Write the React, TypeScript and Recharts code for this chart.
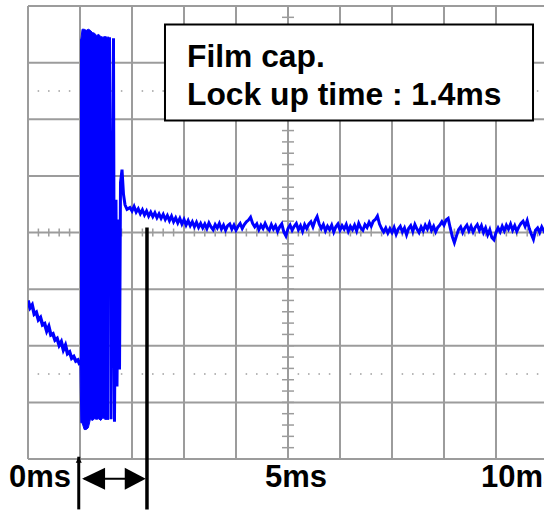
import React from 'react';
import {
  ComposedChart,
  Line,
  Area,
  XAxis,
  YAxis,
  ReferenceLine,
  ReferenceArea,
  ReferenceDot,
} from 'recharts';

// ---------- axis / grid definitions (time in ms, vertical in divisions) ----------
const X_MIN = -1.25;
const X_MAX = 11.154;
const Y_MIN = -4;
const Y_MAX = 4;
const majorX = [-1.25, 0, 1.25, 2.5, 3.75, 5, 6.25, 7.5, 8.75, 10];
const majorY = [-4, -3, -2, -1, 0, 1, 2, 3, 4];
const dottedY = [2.5, -2.5];
const timeTicks = [0, 5, 10];
const CENTER_T = 5;

// ---------- trace data ----------
const sampleStep = 0.05;

const preTriggerStart = -1.25;
const preTriggerValues = [
  -1.2, -1.33, -1.28, -1.44, -1.41, -1.54, -1.5, -1.63, -1.61, -1.74, -1.66, -1.81, -1.79,
  -1.9, -1.87, -1.99, -1.93, -2.07, -1.99, -2.14, -2.11, -2.22, -2.19, -2.27, -2.25, -2.34,
];

const burstTime = [0, 0.02, 0.05, 0.1, 0.15, 0.2, 0.25, 0.3, 0.35, 0.4, 0.45, 0.5, 0.55, 0.6, 0.65, 0.7];
const burstHigh = [3.41, 3.41, 3.59, 3.59, 3.57, 3.59, 3.57, 3.53, 3.52, 3.48, 3.5, 3.46, 3.45, 3.46, 3.45, 3.45];
const burstLow = [-2.33, -3.36, -3.36, -3.48, -3.48, -3.45, -3.3, -3.32, -3.29, -3.3, -3.29, -3.32, -3.27, -3.3, -3.3, -3.3];

const ringTime = [0.709, 0.745, 0.805, 0.829, 0.865, 0.889, 0.925, 0.95, 0.974, 1.01, 1.046, 1.082, 1.13];
const ringValue = [3.45, -3.3, 3.43, -3.34, 0.58, -2.72, 0.23, -2.42, 0.88, 1.11, 0.67, 0.49, 0.41];

const settleStart = 1.2;
const settleValues = [
  // decay 1.20 .. 2.95
  0.44, 0.38, 0.46, 0.36, 0.42, 0.33, 0.4, 0.31, 0.38, 0.29, 0.36, 0.28, 0.35, 0.26, 0.33, 0.25,
  0.32, 0.23, 0.3, 0.21, 0.29, 0.19, 0.26, 0.17, 0.25, 0.15, 0.23, 0.13, 0.21, 0.12, 0.19, 0.1,
  0.18, 0.09, 0.16, 0.08,
  // steady 3.00 ..
  0.15, 0.07, 0.17, 0.1, 0.05, 0.14, 0.08, 0.16, 0.06, 0.13,
  0.04, 0.12, 0.15, 0.06, 0.13, 0.04, 0.11, 0.16, 0.07, 0.14,
  0.19, 0.22, 0.27, 0.16, 0.1, 0.15, 0.05, 0.13, 0.07, 0.16,
  0.08, 0.04, 0.14, 0.06, 0.12, 0.02, 0.1, 0.15, 0.01, -0.06,
  0.07, 0.13, 0.04, 0.11, 0.16, 0.05, 0.12, 0.02, 0.14, 0.07,
  0.15, 0.19, 0.1, 0.21, 0.28, 0.15, 0.07, 0.14, 0.03, 0.11,
  0.05, 0.13, 0.01, 0.1, 0.15, 0.04, 0.12, 0.06, 0.14, 0.02,
  0.11, 0.05, 0.13, 0.03, 0.16, 0.08, 0.04, 0.14, 0.09, 0.18,
  0.11, 0.2, 0.23, 0.29, 0.15, 0.07, 0.01, 0.08, -0.01, 0.07,
  0.0, 0.09, -0.03, 0.06, 0.11, 0.01, 0.08, -0.04, 0.07, 0.12,
  0.02, 0.14, 0.06, 0.0, 0.1, 0.03, 0.13, 0.06, 0.16, 0.04,
  0.11, 0.01, 0.09, 0.13, 0.19, 0.13, 0.22, 0.25, 0.08, -0.07,
  -0.18, -0.06, 0.05, 0.1, 0.0, 0.08, 0.13, 0.03, 0.11, 0.01,
  0.09, 0.14, 0.04, 0.12, 0.0, 0.08, -0.04, 0.05, -0.09, -0.13,
  0.0, 0.08, 0.01, 0.11, 0.03, 0.13, 0.06, 0.15, 0.04, 0.12,
  0.02, 0.1, 0.16, 0.2, 0.11, 0.21, 0.07, -0.03, -0.12, 0.04,
  0.08, 0.0, 0.1, 0.03, 0.09,
];

// annotation values
const lockStart = -0.03;
const lockEnd = 1.61;
const lockTop = 0.09;
const arrowLevel = -4.35;
const markerTop = -3.96;
const markerBottom = -4.89;
const boxX = [2.043, 10.89];
const boxY = [1.979, 3.675];
const boxLines = ['Film cap.', 'Lock up time : 1.4ms'];

// ---------- derived series ----------
const preTriggerData = preTriggerValues.map((v, i) => ({ t: preTriggerStart + i * sampleStep, v }));
const burstData = burstTime.map((t, i) => ({ t, range: [burstLow[i], burstHigh[i]] }));
const ringSettleData = [
  ...ringTime.map((t, i) => ({ t, v: ringValue[i] })),
  ...settleValues.map((v, i) => ({ t: settleStart + i * sampleStep, v })),
];

const minorXTicks: number[] = [];
for (let k = 0; k <= 50; k++) minorXTicks.push(X_MIN + 0.25 * k);
const minorYTicks: number[] = [];
for (let k = 0; k <= 40; k++) minorYTicks.push(Y_MIN + 0.2 * k);

const FONT = '"Liberation Sans", Arial, Helvetica, sans-serif';
const GRID = '#9c9c9c';
const BLUE = '#0000ff';

const tickPlacement: Record<number, { dx: number; anchor: 'start' | 'middle' | 'end' }> = {
  0: { dx: -9, anchor: 'end' },
  5: { dx: 8, anchor: 'middle' },
  10: { dx: -15, anchor: 'start' },
};

function TimeTick(props: any) {
  const { x, y, payload } = props;
  const p = tickPlacement[payload.value] || { dx: 0, anchor: 'middle' };
  return (
    <text
      x={x + p.dx}
      y={y + 28}
      textAnchor={p.anchor}
      fontFamily={FONT}
      fontWeight="bold"
      fontSize={31}
      fill="#000"
    >
      {`${payload.value}ms`}
    </text>
  );
}

function BoxLabel(props: any) {
  const { viewBox } = props;
  if (!viewBox) return null;
  const { x, y } = viewBox;
  return (
    <g>
      {boxLines.map((line, i) => (
        <text
          key={line}
          x={x + 22}
          y={y + 43 + i * 38}
          fontFamily={FONT}
          fontWeight="bold"
          fontSize={31.8}
          fill="#000"
        >
          {line}
        </text>
      ))}
    </g>
  );
}

const leftHead = (props: any) => {
  const { cx, cy } = props;
  return <polygon points={`${cx},${cy} ${cx + 23},${cy - 11} ${cx + 23},${cy + 11}`} fill="#000" />;
};
const rightHead = (props: any) => {
  const { cx, cy } = props;
  return <polygon points={`${cx},${cy} ${cx - 21},${cy - 11} ${cx - 21},${cy + 11}`} fill="#000" />;
};
const smallUpHead = (props: any) => {
  const { cx, cy } = props;
  return <polygon points={`${cx},${cy} ${cx - 3},${cy + 6} ${cx + 3},${cy + 6}`} fill="#000" />;
};

export default function App() {
  return (
    <div style={{ position: 'absolute', left: 0, top: 0, width: 544, height: 510, background: '#fff' }}>
      <ComposedChart width={544} height={510} margin={{ top: 6, right: 0, bottom: 21, left: 28 }}>
        <XAxis
          dataKey="t"
          type="number"
          domain={[X_MIN, X_MAX]}
          allowDataOverflow
          ticks={timeTicks}
          interval={0}
          axisLine={false}
          tickLine={false}
          tickSize={0}
          tickMargin={0}
          height={30}
          tick={<TimeTick />}
        />
        <YAxis type="number" domain={[Y_MIN, Y_MAX]} allowDataOverflow hide />

        {majorX.map((t) => (
          <ReferenceLine key={`gx${t}`} x={t} stroke={GRID} strokeWidth={2} zIndex={-90} />
        ))}
        {majorY.map((v) => (
          <ReferenceLine key={`gy${v}`} y={v} stroke={GRID} strokeWidth={2} zIndex={-90} />
        ))}
        {dottedY.map((v) => (
          <ReferenceLine
            key={`dy${v}`}
            y={v}
            stroke={GRID}
            strokeWidth={1.5}
            strokeDasharray="0.75 8.9 0.75 0"
            zIndex={-85}
          />
        ))}
        {minorXTicks.map((t) => (
          <ReferenceLine
            key={`mx${t}`}
            segment={[{ x: t, y: -0.07 }, { x: t, y: 0.07 }]}
            stroke={GRID}
            strokeWidth={1.5}
            zIndex={-80}
          />
        ))}
        {minorYTicks.map((v) => (
          <ReferenceLine
            key={`my${v}`}
            segment={[{ x: CENTER_T - 0.144, y: v }, { x: CENTER_T + 0.144, y: v }]}
            stroke={GRID}
            strokeWidth={1.5}
            zIndex={-80}
          />
        ))}

        <Line
          data={preTriggerData}
          dataKey="v"
          type="linear"
          stroke={BLUE}
          strokeWidth={3.5}
          dot={false}
          isAnimationActive={false}
        />
        <Area
          data={burstData}
          dataKey="range"
          type="linear"
          stroke={BLUE}
          strokeWidth={1}
          fill={BLUE}
          fillOpacity={1}
          isAnimationActive={false}
        />
        <Line
          data={ringSettleData}
          dataKey="v"
          type="linear"
          stroke={BLUE}
          strokeWidth={3}
          dot={false}
          isAnimationActive={false}
        />

        <ReferenceArea
          x1={boxX[0]}
          x2={boxX[1]}
          y1={boxY[0]}
          y2={boxY[1]}
          fill="#fff"
          fillOpacity={1}
          stroke="#000"
          strokeWidth={2}
          zIndex={1500}
          label={<BoxLabel />}
        />

        <ReferenceLine
          segment={[{ x: lockStart, y: markerTop }, { x: lockStart, y: markerBottom }]}
          stroke="#000"
          strokeWidth={3}
          ifOverflow="visible"
          zIndex={1600}
        />
        <ReferenceLine
          segment={[{ x: lockEnd, y: lockTop }, { x: lockEnd, y: markerBottom }]}
          stroke="#000"
          strokeWidth={3.5}
          ifOverflow="visible"
          zIndex={1600}
        />
        <ReferenceLine
          segment={[{ x: 0.1, y: arrowLevel }, { x: lockEnd - 0.1, y: arrowLevel }]}
          stroke="#000"
          strokeWidth={2}
          ifOverflow="visible"
          zIndex={1600}
        />
        <ReferenceDot x={0.05} y={arrowLevel} ifOverflow="visible" shape={leftHead} zIndex={1600} />
        <ReferenceDot x={lockEnd - 0.03} y={arrowLevel} ifOverflow="visible" shape={rightHead} zIndex={1600} />
        <ReferenceDot x={lockStart} y={markerTop} ifOverflow="visible" shape={smallUpHead} zIndex={1600} />
      </ComposedChart>
    </div>
  );
}
